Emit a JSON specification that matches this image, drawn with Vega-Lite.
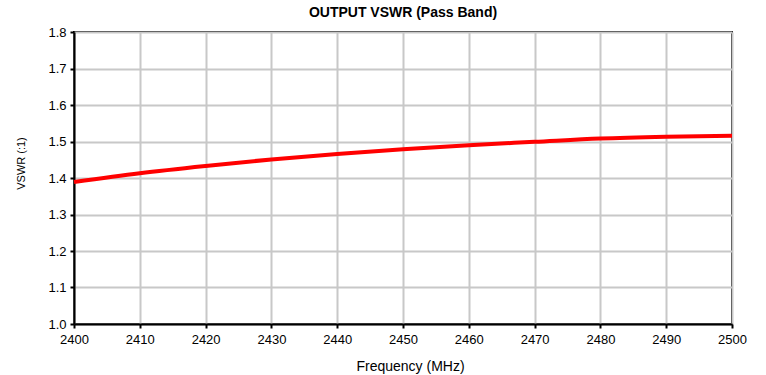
{
  "$schema": "https://vega.github.io/schema/vega-lite/v6.json",
  "width": 658,
  "height": 292,
  "autosize": {"type": "none"},
  "padding": {"left": 74, "top": 32, "right": 34, "bottom": 51},
  "background": "white",
  "title": {"text": "OUTPUT VSWR (Pass Band)", "font": "Liberation Sans", "fontSize": 14, "fontWeight": "bold", "color": "black", "offset": 6},
  "config": {
    "view": {"stroke": "black", "strokeWidth": 2},
    "axis": {
      "labelFont": "Liberation Sans", "labelFontSize": 13, "labelColor": "black",
      "titleFont": "Liberation Sans", "titleFontSize": 12, "titleFontWeight": "normal", "titleColor": "black",
      "domainColor": "black", "domainWidth": 2, "tickColor": "black", "tickWidth": 2, "tickSize": 4,
      "gridColor": "#c8c8c8", "gridWidth": 2, "labelFlush": false, "labelOverlap": false
    }
  },
  "data": {"values": [
    {"f": 2400, "v": 1.389},
    {"f": 2410, "v": 1.413},
    {"f": 2420, "v": 1.433},
    {"f": 2430, "v": 1.451},
    {"f": 2440, "v": 1.466},
    {"f": 2450, "v": 1.479},
    {"f": 2460, "v": 1.490},
    {"f": 2470, "v": 1.499},
    {"f": 2480, "v": 1.508},
    {"f": 2490, "v": 1.513},
    {"f": 2500, "v": 1.516}
  ]},
  "mark": {"type": "line", "color": "#ff0000", "strokeWidth": 4, "interpolate": "monotone"},
  "encoding": {
    "x": {"field": "f", "type": "quantitative", "scale": {"domain": [2400, 2500], "nice": false, "zero": false},
      "axis": {"title": "Frequency (MHz)", "titleFontSize": 14, "titleX": 336, "values": [2400,2410,2420,2430,2440,2450,2460,2470,2480,2490,2500], "format": "d", "labelPadding": 5, "titlePadding": 13}},
    "y": {"field": "v", "type": "quantitative", "scale": {"domain": [1.0, 1.8], "nice": false, "zero": false},
      "axis": {"title": "VSWR (:1)", "titleFontSize": 11, "titleY": 131, "values": [1.0,1.1,1.2,1.3,1.4,1.5,1.6,1.7,1.8], "format": ".1f", "labelPadding": 4, "titlePadding": 21}}
  }
}
